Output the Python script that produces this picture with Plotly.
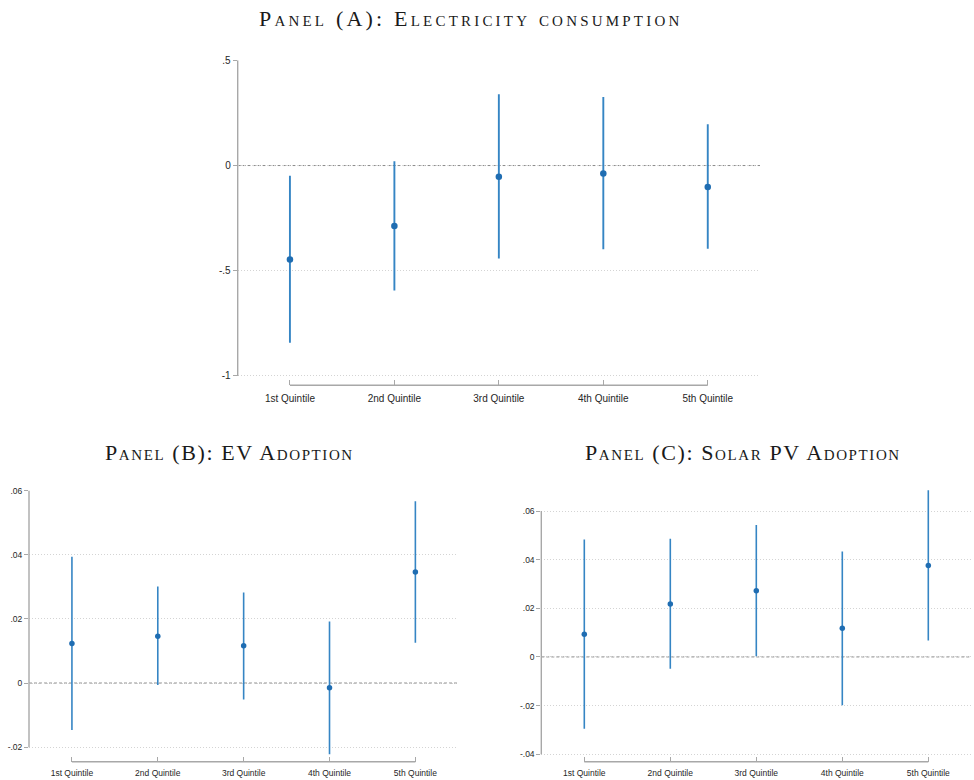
import plotly.graph_objects as go

# Category labels shared by all three panels
quintiles = ["1st Quintile", "2nd Quintile", "3rd Quintile", "4th Quintile", "5th Quintile"]
xpos = [1, 2, 3, 4, 5]

# Panel (A): electricity consumption — point estimates and 95% CI bounds
elec_est = [-0.447, -0.287, -0.053, -0.038, -0.102]
elec_lo = [-0.842, -0.594, -0.442, -0.398, -0.395]
elec_hi = [-0.049, 0.020, 0.339, 0.326, 0.196]
elec_ticks = [-1, -0.5, 0, 0.5]
elec_ticktext = ["-1", "-.5", "0", ".5"]

# Panel (B): EV adoption
ev_est = [0.0123, 0.0146, 0.0116, -0.0015, 0.0346]
ev_lo = [-0.0146, -0.0006, -0.0051, -0.0222, 0.0126]
ev_hi = [0.0394, 0.0301, 0.0282, 0.0192, 0.0567]
ev_ticks = [-0.02, 0, 0.02, 0.04, 0.06]
ev_ticktext = ["-.02", "0", ".02", ".04", ".06"]

# Panel (C): solar PV adoption
pv_est = [0.0093, 0.0218, 0.0272, 0.0118, 0.0376]
pv_lo = [-0.0295, -0.0049, 0.0003, -0.0199, 0.0067]
pv_hi = [0.0483, 0.0486, 0.0543, 0.0434, 0.0686]
pv_ticks = [-0.04, -0.02, 0, 0.02, 0.04, 0.06]
pv_ticktext = ["-.04", "-.02", "0", ".02", ".04", ".06"]

W, H = 974, 780
LINE_BLUE = "#3585c4"
DOT_BLUE = "#1f6db2"
AXIS_GRAY = "#a8a8a8"
TEXT = "#262626"
SANS = "Liberation Sans, Arial, sans-serif"
SERIF = "Liberation Serif, Times New Roman, serif"

# Layout geometry of each panel (pixel positions of the plot frame)
panels = [
    dict(est=elec_est, lo=elec_lo, hi=elec_hi, ticks=elec_ticks, ticktext=elec_ticktext,
         left=237.7, right=760.0, top_px=55.7, low_px=373.3, axis_px=382.7, range_top=0.5,
         title="Panel (A): Electricity consumption", title_x=470, title_y=14,
         title_size=22, tracking=3.2, tick_size=10, standoff=6, dot=6.5, bar=1.9),
    dict(est=ev_est, lo=ev_lo, hi=ev_hi, ticks=ev_ticks, ticktext=ev_ticktext,
         left=29.0, right=458.3, top_px=488.7, low_px=747.0, axis_px=761.7, range_top=0.06,
         title="Panel (B): EV Adoption", title_x=229, title_y=450,
         title_size=22, tracking=1.6, tick_size=8.5, standoff=5, dot=5.5, bar=1.6),
    dict(est=pv_est, lo=pv_lo, hi=pv_hi, ticks=pv_ticks, ticktext=pv_ticktext,
         left=541.3, right=971.3, top_px=509.3, low_px=754.0, axis_px=761.7, range_top=0.072,
         title="Panel (C): Solar PV Adoption", title_x=743, title_y=450,
         title_size=22, tracking=1.6, tick_size=8.5, standoff=5, dot=5.5, bar=1.6),
]

fig = go.Figure()
shapes, annotations = [], []
layout_axes = {}

for i, p in enumerate(panels, start=1):
    sfx = "" if i == 1 else str(i)
    xname, yname = "x" + sfx, "y" + sfx
    tmax, tmin = max(p["ticks"]), min(p["ticks"])
    scale = (p["low_px"] - p["top_px"]) / (tmax - tmin)  # pixels per unit
    ybottom = tmin - (p["axis_px"] - p["low_px"]) / scale
    ytop_px = p["top_px"] - (p["range_top"] - tmax) * scale
    tick_font = dict(family=SANS, size=p["tick_size"], color=TEXT)

    err_plus = [h - e for h, e in zip(p["hi"], p["est"])]
    err_minus = [e - l for e, l in zip(p["est"], p["lo"])]

    fig.add_trace(go.Scatter(
        x=xpos, y=p["est"], mode="markers", xaxis=xname, yaxis=yname,
        marker=dict(size=p["dot"], color=DOT_BLUE),
        error_y=dict(type="data", symmetric=False, array=err_plus, arrayminus=err_minus,
                     color=LINE_BLUE, thickness=p["bar"], width=0),
        cliponaxis=False, showlegend=False,
    ))

    layout_axes["xaxis" + sfx] = dict(
        domain=[p["left"] / W, p["right"] / W], range=[0.5, 5.5],
        tickvals=xpos, ticktext=quintiles, ticks="inside", ticklen=5, tickwidth=1.3,
        tickcolor=AXIS_GRAY, showgrid=False, zeroline=False, showline=False,
        tickfont=tick_font, anchor=yname, fixedrange=True,
        ticklabelstandoff=p["standoff"],
    )
    layout_axes["yaxis" + sfx] = dict(
        domain=[1 - p["axis_px"] / H, 1 - ytop_px / H], range=[ybottom, p["range_top"]],
        tickvals=p["ticks"], ticktext=p["ticktext"], ticks="outside", ticklen=4,
        tickwidth=1.3, tickcolor=AXIS_GRAY, showgrid=True, gridcolor="#d4d4d4",
        griddash="1px,2px", gridwidth=1, zeroline=False, showline=False,
        tickfont=tick_font, anchor=xname, fixedrange=True,
    )

    # reference line at zero
    shapes.append(dict(type="line", xref=xname + " domain", x0=0, x1=1, yref=yname,
                       y0=0, y1=0, layer="below",
                       line=dict(color="#8a8a8a", width=1, dash="3px,2px")))
    # vertical axis line spanning the labelled range
    shapes.append(dict(type="line", xref=xname + " domain", x0=0, x1=0, yref=yname,
                       y0=tmin, y1=tmax, line=dict(color=AXIS_GRAY, width=1.4)))
    # horizontal axis line spanning first to last category
    shapes.append(dict(type="line", xref=xname, x0=xpos[0], x1=xpos[-1],
                       yref=yname + " domain", y0=0, y1=0,
                       line=dict(color=AXIS_GRAY, width=1.4)))

    # small-caps panel heading with letter tracking
    heading = '<span style="letter-spacing:%.1fpx">%s</span>' % (p["tracking"], p["title"])
    annotations.append(dict(text=heading, xref="paper", yref="paper",
                            x=p["title_x"] / W, y=1 - p["title_y"] / H,
                            xanchor="center", yanchor="middle", showarrow=False,
                            font=dict(family=SERIF, size=p["title_size"],
                                      color="#1a1a1a", variant="small-caps")))

fig.update_layout(
    width=W, height=H, margin=dict(l=0, r=0, t=0, b=0),
    paper_bgcolor="white", plot_bgcolor="rgba(0,0,0,0)",
    shapes=shapes, annotations=annotations, **layout_axes,
)

fig.write_html("out.html", config={"displayModeBar": False})
